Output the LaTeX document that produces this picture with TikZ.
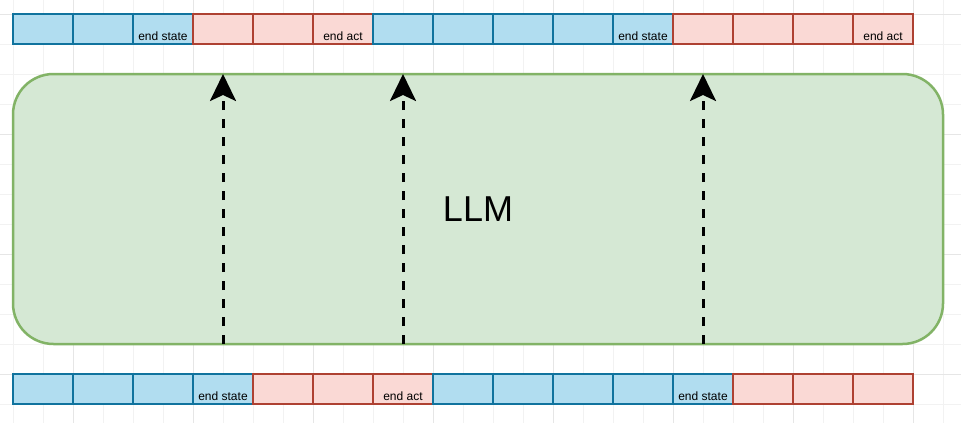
\documentclass[tikz,border=0pt]{standalone}
\usepackage{fontspec}
\setmainfont{Liberation Sans}
\usetikzlibrary{arrows.meta}
\definecolor{bluefill}{HTML}{B1DDF0}
\definecolor{bluedraw}{HTML}{10739E}
\definecolor{redfill}{HTML}{FAD9D5}
\definecolor{reddraw}{HTML}{AE4132}
\definecolor{greenfill}{HTML}{D5E8D4}
\definecolor{greendraw}{HTML}{82B366}
\definecolor{gridminor}{HTML}{F2F2F2}
\definecolor{gridmajor}{HTML}{E6E6E6}
\begin{document}
\begin{tikzpicture}[x=1pt,y=-1pt,
  cell/.style={rectangle, minimum width=60pt, minimum height=30pt, line width=2.6pt, inner sep=0pt, outer sep=0pt},
  bcell/.style={cell, fill=bluefill, draw=bluedraw},
  rcell/.style={cell, fill=redfill, draw=reddraw},
  tag/.style={label={[anchor=base, yshift=3.2pt, font=\fontsize{12}{14}\selectfont, inner sep=0pt]south:#1}},
  llmbox/.style={rectangle, rounded corners=40.5pt, fill=greenfill, draw=greendraw, line width=2.5pt,
    minimum width=930pt, minimum height=270pt, inner sep=0pt, outer sep=0pt, font=\fontsize{36}{43}\selectfont},
  flow/.style={line width=3pt, dash pattern=on 9pt off 9pt, -{Stealth[length=27pt,width=26pt,inset=6pt]}},
  gminor/.style={draw=gridminor, line width=1pt},
  gmajor/.style={draw=gridmajor, line width=1pt}
]
\fill[white] (0,0) rectangle (961,423);
\useasboundingbox (0,0) rectangle (961,423);
% grid
\foreach \x in {13,43,...,943} \draw[gminor] (\x,0) -- (\x,423);
\foreach \y in {14,44,...,404} \draw[gminor] (0,\y) -- (961,\y);
\foreach \x in {73,193,...,913} \draw[gmajor] (\x,0) -- (\x,423);
\foreach \y in {14,134,254,374} \draw[gmajor] (0,\y) -- (961,\y);

% LLM box
\node[llmbox] (llm) at (478,209) {LLM};

% top row
\node[bcell] (t1) at (43,29) {};
\node[bcell] (t2) at (103,29) {};
\node[bcell, tag={end state}] (t3) at (163,29) {};
\node[rcell] (t4) at (223,29) {};
\node[rcell] (t5) at (283,29) {};
\node[rcell, tag={end act}] (t6) at (343,29) {};
\node[bcell] (t7) at (403,29) {};
\node[bcell] (t8) at (463,29) {};
\node[bcell] (t9) at (523,29) {};
\node[bcell] (t10) at (583,29) {};
\node[bcell, tag={end state}] (t11) at (643,29) {};
\node[rcell] (t12) at (703,29) {};
\node[rcell] (t13) at (763,29) {};
\node[rcell] (t14) at (823,29) {};
\node[rcell, tag={end act}] (t15) at (883,29) {};

% bottom row
\node[bcell] (b1) at (43,389) {};
\node[bcell] (b2) at (103,389) {};
\node[bcell] (b3) at (163,389) {};
\node[bcell, tag={end state}] (b4) at (223,389) {};
\node[rcell] (b5) at (283,389) {};
\node[rcell] (b6) at (343,389) {};
\node[rcell, tag={end act}] (b7) at (403,389) {};
\node[bcell] (b8) at (463,389) {};
\node[bcell] (b9) at (523,389) {};
\node[bcell] (b10) at (583,389) {};
\node[bcell] (b11) at (643,389) {};
\node[bcell, tag={end state}] (b12) at (703,389) {};
\node[rcell] (b13) at (763,389) {};
\node[rcell] (b14) at (823,389) {};
\node[rcell] (b15) at (883,389) {};

% arrows
\draw[flow] (llm.south -| b4.center) -- (llm.north -| t4.center);
\draw[flow] (llm.south -| b7.center) -- (llm.north -| t7.center);
\draw[flow] (llm.south -| b12.center) -- (llm.north -| t12.center);
\end{tikzpicture}
\end{document}
